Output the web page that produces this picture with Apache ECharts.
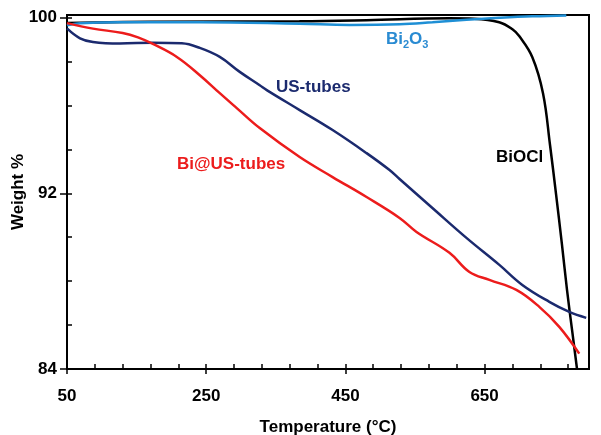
<!DOCTYPE html>
<html>
<head>
<meta charset="utf-8">
<script src="https://cdn.jsdelivr.net/npm/echarts@6/dist/echarts.min.js"></script>
<style>html,body{margin:0;padding:0;background:#fff;}#c{width:601px;height:435px;}</style>
</head>
<body>
<div id="c"></div>
<script>
// X tick labels / axis ranges
const xTicks = [50, 250, 450, 650];
const yTicks = [84, 92, 100];

// US-tubes
const usT = [50, 68.7, 87.3, 126, 173.4, 215, 240.8, 269.5, 298.2, 326.9, 337, 384.3, 431.6, 480.4, 513.4, 527.8, 575, 623.9, 671.2, 704.2, 743, 771.7, 796];
const usW = [99.51, 99.06, 98.89, 98.82, 98.86, 98.83, 98.62, 98.21, 97.53, 96.92, 96.70, 95.79, 94.88, 93.83, 93.06, 92.65, 91.33, 89.97, 88.74, 87.83, 87.06, 86.60, 86.33];

// Bi@US-tubes
const biusT = [50, 87.3, 130, 152, 173.4, 207.8, 240.8, 269.5, 293.9, 326.9, 384.3, 431.6, 480.4, 527.8, 552.2, 599.5, 628.2, 656.9, 695.6, 728.6, 757.3, 786];
const biusW = [99.75, 99.50, 99.30, 99.10, 98.80, 98.21, 97.38, 96.56, 95.88, 94.97, 93.65, 92.74, 91.83, 90.88, 90.24, 89.29, 88.42, 88.06, 87.60, 86.83, 85.92, 84.70];

// BiOCl
const bioclT = [50, 169, 384, 480.4, 599.5, 635.3, 671, 690, 700, 718.6, 733.9, 744, 752.6, 761.2, 768.4, 775.6, 782.8];
const bioclW = [99.76, 99.81, 99.83, 99.88, 99.97, 99.95, 99.79, 99.47, 99.15, 98.20, 96.56, 94.20, 91.97, 89.65, 87.60, 85.79, 84.0];

// Bi2O3
const bi2o3T = [50, 68.7, 126, 240.8, 384.3, 456, 527.8, 575.1, 623.9, 671.2, 718.6, 767.4];
const bi2o3W = [99.65, 99.74, 99.79, 99.79, 99.72, 99.67, 99.70, 99.79, 99.90, 99.99, 100.06, 100.10];

const zip = (a, b) => a.map((v, i) => [v, b[i]]);
const FONT = "'Liberation Sans', Arial, sans-serif";

const chart = echarts.init(document.getElementById('c'), null, {renderer: 'canvas'});
const baseX = {type: 'value', min: 50, max: 800, position: 'bottom', splitLine: {show: false}};
const baseY = {type: 'value', min: 84, max: 100.12, position: 'left', splitLine: {show: false}};
const lineSeries = (name, t, w, color) => ({
  name, type: 'line', data: zip(t, w), showSymbol: false, symbol: 'none',
  smooth: 0.4,
  lineStyle: {color, width: 2.5}, xAxisIndex: 0, yAxisIndex: 0, z: 3
});

chart.setOption({
  animation: false,
  backgroundColor: '#fff',
  grid: {left: 67, right: 12, top: 15, bottom: 66, containLabel: false, outerBoundsMode: 'none',
    show: true, borderColor: '#000', borderWidth: 2, backgroundColor: 'transparent'},
  xAxis: [
    Object.assign({}, baseX, {
      interval: 200,
      axisLine: {show: true, lineStyle: {color: '#000', width: 2}},
      axisTick: {show: true, inside: false, length: 5, lineStyle: {color: '#000', width: 1.5}},
      axisLabel: {show: true, margin: 19, color: '#000', fontFamily: FONT, fontWeight: 'bold', fontSize: 17,
        showMaxLabel: false, formatter: v => xTicks.includes(v) ? String(v) : ''},
      name: 'Temperature (°C)', nameLocation: 'middle', nameGap: 50, nameMoveOverlap: false,
      nameTextStyle: {color: '#000', fontFamily: FONT, fontWeight: 'bold', fontSize: 17}
    }),
    Object.assign({}, baseX, {
      interval: 40,
      axisLine: {show: false},
      axisTick: {show: true, inside: true, length: 5, lineStyle: {color: '#000', width: 1.5}},
      axisLabel: {show: false}
    })
  ],
  yAxis: [
    Object.assign({}, baseY, {
      interval: 8,
      axisLine: {show: true, lineStyle: {color: '#000', width: 2}},
      axisTick: {show: true, inside: false, length: 7, lineStyle: {color: '#000', width: 1.5}},
      axisLabel: {show: true, margin: 10, color: '#000', fontFamily: FONT, fontWeight: 'bold', fontSize: 17,
        showMaxLabel: false, formatter: v => yTicks.includes(v) ? String(v) : ''},
      name: 'Weight %', nameLocation: 'middle', nameGap: 40, nameRotate: 90, nameMoveOverlap: false,
      nameTextStyle: {color: '#000', fontFamily: FONT, fontWeight: 'bold', fontSize: 17}
    }),
    Object.assign({}, baseY, {
      interval: 2,
      axisLine: {show: false},
      axisTick: {show: true, inside: true, length: 5, lineStyle: {color: '#000', width: 1.5}},
      axisLabel: {show: false}
    })
  ],
  series: [
    lineSeries('BiOCl', bioclT, bioclW, '#000000'),
    lineSeries('Bi2O3', bi2o3T, bi2o3W, '#1e8fd5'),
    lineSeries('US-tubes', usT, usW, '#1b2a6e'),
    lineSeries('Bi@US-tubes', biusT, biusW, '#ec1c1c')
  ],
  graphic: [
    {type: 'text', left: 386, top: 31, z: 10, style: {
      text: '{a|Bi}{s|2}{a|O}{s|3}', fill: '#2a8bd2', font: 'bold 17px ' + FONT,
      rich: {a: {fontSize: 17, fontWeight: 'bold', fontFamily: FONT, fill: '#2a8bd2', lineHeight: 22},
             s: {fontSize: 11, fontWeight: 'bold', fontFamily: FONT, fill: '#2a8bd2', lineHeight: 11, verticalAlign: 'bottom'}}
    }},
    {type: 'text', left: 276, top: 79, z: 10, style: {text: 'US-tubes', fill: '#1b2a6e', font: 'bold 17px ' + FONT}},
    {type: 'text', left: 177, top: 156, z: 10, style: {text: 'Bi@US-tubes', fill: '#ec1c1c', font: 'bold 17px ' + FONT}},
    {type: 'text', left: 496, top: 149, z: 10, style: {text: 'BiOCl', fill: '#000', font: 'bold 17px ' + FONT}}
  ]
});
</script>
</body>
</html>
